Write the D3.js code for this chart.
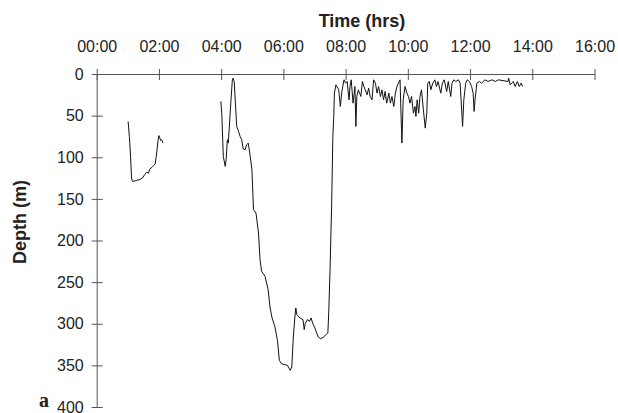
<!DOCTYPE html>
<html>
<head>
<meta charset="utf-8">
<script src="https://cdn.jsdelivr.net/npm/d3@7"></script>
<style>
  body { margin: 0; background: #fff; }
  text { font-family: "Liberation Sans", Arial, sans-serif; fill: #222; }
</style>
</head>
<body>
<svg width="618" height="413"></svg>
<script>
// time in hours, depth in metres
var timeTicks = [0, 2, 4, 6, 8, 10, 12, 14, 16];
var timeLabels = ["00:00", "02:00", "04:00", "06:00", "08:00", "10:00", "12:00", "14:00", "16:00"];
var depthTicks = [0, 50, 100, 150, 200, 250, 300, 350, 400];

var dive1 = [
  [1.01,57],[1.05,75],[1.09,100],[1.12,125],[1.15,129],[1.27,128],[1.37,127],[1.47,125],
  [1.54,121],[1.60,118],[1.66,119],[1.71,114],[1.78,112],[1.83,110],[1.88,108],[1.91,100],
  [1.94,91],[1.97,80],[2.00,74],[2.03,77],[2.06,80],[2.09,79],[2.13,83]
];

var dive2 = [
  [3.99,33],[4.02,47],[4.05,79],[4.07,99],[4.13,111],[4.16,103],[4.20,79],[4.23,83],
  [4.31,35],[4.36,7],[4.38,5],[4.42,9],[4.44,23],[4.50,63],[4.55,68],[4.61,75],[4.66,79],
  [4.71,90],[4.77,91],[4.82,85],[4.87,83],[4.92,95],[4.99,115],[5.04,163],[5.12,167],
  [5.20,191],[5.25,223],[5.30,237],[5.41,243],[5.51,259],[5.57,280],[5.63,292],[5.73,304],
  [5.81,320],[5.87,344],[5.94,348],[6.13,350],[6.22,356],[6.27,352],[6.32,316],[6.37,292],
  [6.40,281],[6.43,289],[6.53,293],[6.63,295],[6.67,307],[6.70,300],[6.77,295],[6.84,297],
  [6.89,293],[6.94,299],[7.01,305],[7.12,316],[7.20,318],[7.29,316],[7.43,311],[7.46,284],
  [7.50,235],[7.55,160],[7.59,75],[7.62,51],[7.64,23],[7.69,13],[7.78,19],[7.83,39],
  [7.88,21],[7.95,7],[8.00,11],[8.05,9],[8.11,31],[8.14,15],[8.18,7],[8.24,35],[8.30,15],
  [8.33,63],[8.36,27],[8.41,19],[8.49,27],[8.54,9],[8.59,15],[8.63,19],[8.69,25],[8.74,17],
  [8.79,27],[8.85,31],[8.90,7],[8.96,11],[9.01,23],[9.06,15],[9.12,27],[9.17,19],[9.22,31],
  [9.27,21],[9.32,35],[9.39,23],[9.44,35],[9.49,27],[9.55,39],[9.60,23],[9.65,15],[9.75,7],
  [9.77,35],[9.81,83],[9.85,31],[9.91,15],[9.97,23],[10.02,27],[10.07,35],[10.12,27],[10.18,47],
  [10.23,39],[10.26,51],[10.30,31],[10.35,47],[10.39,27],[10.44,19],[10.50,43],[10.56,65],
  [10.61,47],[10.64,11],[10.69,9],[10.74,19],[10.80,11],[10.87,7],[10.92,15],[10.97,9],
  [11.06,23],[11.11,11],[11.17,7],[11.25,21],[11.30,9],[11.38,27],[11.42,11],[11.48,7],
  [11.54,9],[11.63,7],[11.68,11],[11.73,43],[11.76,63],[11.80,31],[11.86,11],[11.91,7],
  [11.98,9],[12.05,15],[12.10,23],[12.13,45],[12.16,31],[12.22,11],[12.30,9],[12.37,11],
  [12.48,7],[12.58,9],[12.70,7],[12.81,9],[12.91,7],[13.22,9],[13.24,5],[13.29,13],
  [13.39,9],[13.45,15],[13.52,9],[13.58,15],[13.64,11],[13.69,15]
];

var svg = d3.select("svg");
var axisColor = "#555";

var x = d3.scaleLinear().domain([0, 16]).range([96.7, 594.5]);
var y = d3.scaleLinear().domain([0, 400]).range([74, 407]);

// top time axis
var xAxis = svg.append("g")
  .attr("transform", "translate(0," + y(0) + ")")
  .call(d3.axisTop(x).tickValues(timeTicks)
    .tickFormat(function(d, i) { return timeLabels[i]; })
    .tickSizeOuter(0).tickSizeInner(4).tickPadding(18));
xAxis.select(".domain").attr("stroke", axisColor);
xAxis.selectAll(".tick line").attr("stroke", axisColor).attr("y1", 6).attr("y2", -5);
xAxis.selectAll(".tick text").attr("font-size", 16).attr("font-family", null).attr("fill", "#222");

// left depth axis
var yAxis = svg.append("g")
  .attr("transform", "translate(" + x(0) + ",0)")
  .call(d3.axisLeft(y).tickValues(depthTicks)
    .tickSizeOuter(0).tickSizeInner(5).tickPadding(8));
yAxis.select(".domain").attr("stroke", axisColor);
yAxis.selectAll(".tick line").attr("stroke", axisColor).attr("x1", 6).attr("x2", -5);
yAxis.selectAll(".tick text").attr("font-size", 16).attr("font-family", null).attr("fill", "#222");

var line = d3.line()
  .x(function(d) { return x(d[0]); })
  .y(function(d) { return y(d[1]); });

svg.append("g").selectAll("path")
  .data([dive1, dive2])
  .enter().append("path")
  .attr("d", line)
  .attr("fill", "none")
  .attr("stroke", "#111")
  .attr("stroke-width", 1);

svg.append("text")
  .attr("x", 362).attr("y", 27)
  .attr("text-anchor", "middle")
  .attr("font-size", 18).attr("font-weight", "bold")
  .text("Time (hrs)");

svg.append("text")
  .attr("transform", "translate(26,222) rotate(-90)")
  .attr("text-anchor", "middle")
  .attr("font-size", 18).attr("font-weight", "bold")
  .text("Depth (m)");

svg.append("text")
  .attr("x", 39).attr("y", 407)
  .style("font-family", "'Liberation Serif', 'DejaVu Serif', serif")
  .attr("font-size", 20).attr("font-weight", "bold")
  .text("a");
</script>
</body>
</html>
